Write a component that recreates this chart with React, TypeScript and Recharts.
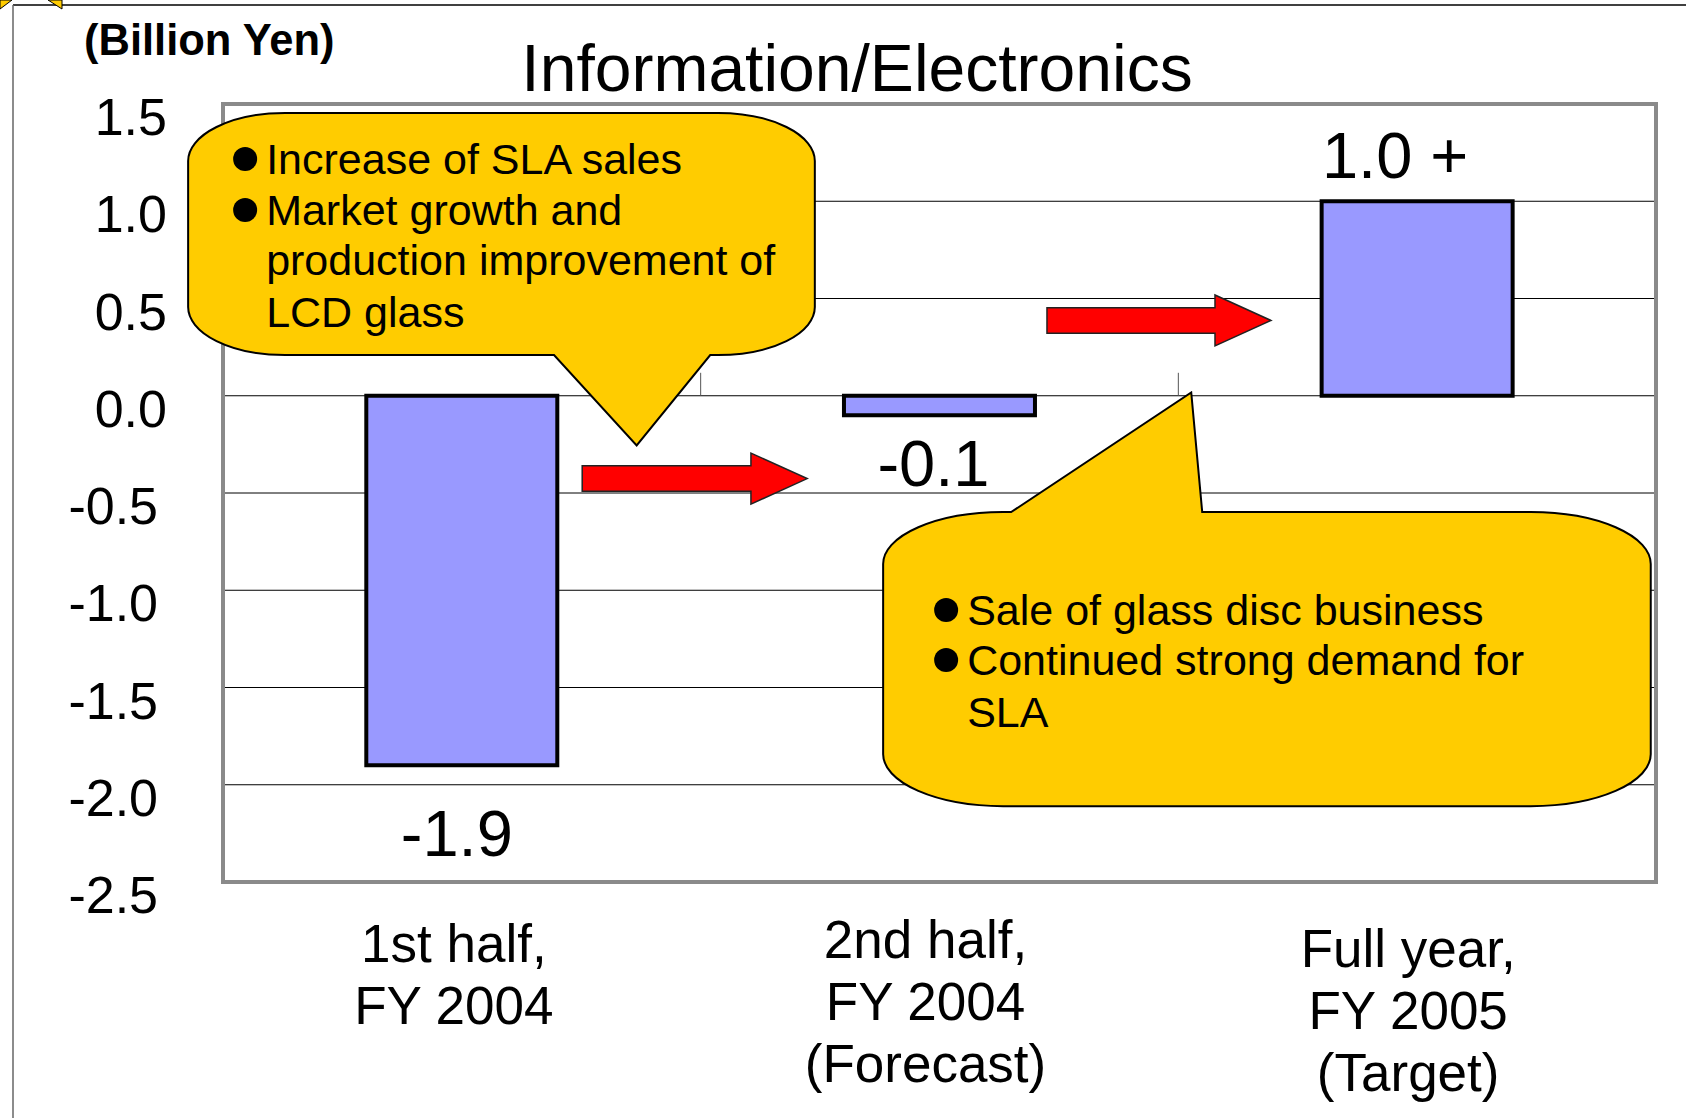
import React from 'react';
import { Bar, BarChart, CartesianGrid, LabelList, ReferenceArea, XAxis, YAxis } from 'recharts';

// data
const categories = ['1st half,\nFY 2004', '2nd half,\nFY 2004\n(Forecast)', 'Full year,\nFY 2005\n(Target)'];
const values = [-1.9, -0.1, 1.0];
const valueLabels = ['-1.9', '-0.1', '1.0 +'];
const yTicks = [-2.5, -2.0, -1.5, -1.0, -0.5, 0, 0.5, 1.0, 1.5];

const callout1Lines = [
  { bullet: true, text: 'Increase of SLA sales' },
  { bullet: true, text: 'Market growth and' },
  { bullet: false, text: 'production improvement of' },
  { bullet: false, text: 'LCD glass' },
];
const callout2Lines = [
  { bullet: true, text: 'Sale of glass disc business' },
  { bullet: true, text: 'Continued strong demand for' },
  { bullet: false, text: 'SLA' },
];

const chartData = categories.map((name, i) => ({ name, value: values[i] }));

const FONT = "'Liberation Sans', Arial, sans-serif";
const W = 1686;
const H = 1118;
const N = categories.length;

// label placement (px)
const labelDx = [-5, -6, -22];
const labelGap = [91, 71, 23];
const catDx = [-8, -14, -9];
const catDy = [0, -4, 5];

// annotation geometry: u runs 0..N across the category axis, v is the value axis
const callout1 = {
  body: { u0: -0.073, u1: 1.239, v0: 0.209, v1: 1.454 },
  tail: { a: 0.693, b: 1.02, tipU: 0.866, tipV: -0.255 },
  rx: 97,
  ry: 48,
  textX: 78,
  bulletX: 57,
  baselines: [61, 112, 162, 214],
  lines: callout1Lines,
  tailTop: false,
};
const callout2 = {
  body: { u0: 1.382, u1: 2.989, v0: -2.11, v1: -0.598 },
  tail: { a: 1.65, b: 2.05, tipU: 2.027, tipV: 0.017 },
  rx: 120,
  ry: 52,
  textX: 84,
  bulletX: 63,
  baselines: [113, 163, 215],
  lines: callout2Lines,
  tailTop: true,
};
const arrows = [
  { u0: 0.752, u1: 1.223, v0: -0.557, v1: -0.295 },
  { u0: 1.725, u1: 2.194, v0: 0.256, v1: 0.518 },
];
const tickTop = 0.118;

type Callout = typeof callout1;

const bbox = (c: Callout) => ({
  v0: Math.min(c.body.v0, c.tail.tipV),
  v1: Math.max(c.body.v1, c.tail.tipV),
});

const calloutShape = (c: Callout) => (props: any) => {
  const { x, y, width, height } = props;
  const bb = bbox(c);
  const ux = (u: number) => x + (u / N) * width;
  const vy = (v: number) => y + ((bb.v1 - v) / (bb.v1 - bb.v0)) * height;
  const L = ux(c.body.u0);
  const R = ux(c.body.u1);
  const T = vy(c.body.v1);
  const B = vy(c.body.v0);
  const { rx, ry } = c;
  const ta = ux(c.tail.a);
  const tb = ux(c.tail.b);
  const tx = ux(c.tail.tipU);
  const ty = vy(c.tail.tipV);
  const arc = (px: number, py: number) => `A ${rx} ${ry} 0 0 1 ${px} ${py}`;
  let d = '';
  if (c.tailTop) {
    d = `M ${L + rx} ${T} H ${ta} L ${tx} ${ty} L ${tb} ${T} H ${R - rx} ${arc(R, T + ry)} V ${B - ry} ${arc(
      R - rx,
      B,
    )} H ${L + rx} ${arc(L, B - ry)} V ${T + ry} ${arc(L + rx, T)} Z`;
  } else {
    d = `M ${L + rx} ${T} H ${R - rx} ${arc(R, T + ry)} V ${B - ry} ${arc(R - rx, B)} H ${tb} L ${tx} ${ty} L ${ta} ${B} H ${
      L + rx
    } ${arc(L, B - ry)} V ${T + ry} ${arc(L + rx, T)} Z`;
  }
  return (
    <g>
      <path d={d} fill="#FFCC00" stroke="#000" strokeWidth={2} />
      {c.lines.map((ln, i) => (
        <g key={i}>
          {ln.bullet && <circle cx={L + c.bulletX} cy={T + c.baselines[i] - 15} r={12} fill="#000" />}
          <text x={L + c.textX} y={T + c.baselines[i]} fontSize={43} fontFamily={FONT} fill="#000">
            {ln.text}
          </text>
        </g>
      ))}
    </g>
  );
};

const arrowShape = (a: (typeof arrows)[number]) => (props: any) => {
  const { x, y, width, height } = props;
  const x0 = x + (a.u0 / N) * width;
  const x1 = x + (a.u1 / N) * width;
  const w = x1 - x0;
  const cy = y + height / 2;
  const s = height * 0.25;
  const hx = x0 + w * 0.75;
  const pts = [
    [x0, cy - s],
    [hx, cy - s],
    [hx, y],
    [x1, cy],
    [hx, y + height],
    [hx, cy + s],
    [x0, cy + s],
  ]
    .map((p) => p.join(','))
    .join(' ');
  return <polygon points={pts} fill="#FF0000" stroke="#222" strokeWidth={1.5} />;
};

// small tick marks at category boundaries, standing on the zero line
const BoundaryTicks = (props: any) => {
  const { x, y, width, height } = props;
  const xs = Array.from({ length: N - 1 }, (_, k) => x + ((k + 1) / N) * width);
  return (
    <g>
      {xs.map((px, i) => (
        <line key={i} x1={px} x2={px} y1={y} y2={y + height} stroke="#555" strokeWidth={1} />
      ))}
    </g>
  );
};

const YTick = (props: any) => {
  const { x, y, payload } = props;
  const v = Number(payload.value);
  return (
    <text x={v < 0 ? x - 9 : x} y={y + 31} textAnchor="end" fontSize={52} fontFamily={FONT} fill="#000">
      {v.toFixed(1)}
    </text>
  );
};

const CatTick = (props: any) => {
  const { x, y, payload, index } = props;
  const lines = String(payload.value).split('\n');
  return (
    <g>
      {lines.map((ln, i) => (
        <text
          key={i}
          x={x + (catDx[index] || 0)}
          y={y + 80 + (catDy[index] || 0) + i * 62}
          textAnchor="middle"
          fontSize={53}
          fontFamily={FONT}
          fill="#000"
        >
          {ln}
        </text>
      ))}
    </g>
  );
};

const BarLabel = (props: any) => {
  const { x, y, width, height, index } = props;
  const top = Math.min(y, y + height);
  const bottom = Math.max(y, y + height);
  const v = values[index];
  const ty = v < 0 ? bottom + labelGap[index] : top - labelGap[index];
  return (
    <text x={x + width / 2 + labelDx[index]} y={ty} textAnchor="middle" fontSize={65} fontFamily={FONT} fill="#000">
      {valueLabels[index]}
    </text>
  );
};

export default function App() {
  const b1 = bbox(callout1);
  const b2 = bbox(callout2);
  return (
    <div style={{ position: 'absolute', left: 0, top: 0, width: W, height: H, background: '#fff' }}>
      <BarChart
        width={W}
        height={H}
        data={chartData}
        margin={{ top: 104, right: 30, left: 0, bottom: 0 }}
        barCategoryGap="30%"
      >
        <CartesianGrid horizontal vertical={false} stroke="#000" strokeWidth={1} />
        <XAxis
          dataKey="name"
          height={236}
          axisLine={false}
          tickLine={false}
          tickSize={0}
          tickMargin={0}
          tick={<CatTick />}
          interval={0}
        />
        <YAxis
          domain={[-2.5, 1.5]}
          ticks={yTicks}
          width={223}
          axisLine={false}
          tickLine={false}
          tickSize={0}
          tickMargin={56}
          tick={<YTick />}
          interval={0}
        />
        <Bar dataKey="value" fill="#9999FF" stroke="#000" strokeWidth={4} isAnimationActive={false}>
          <LabelList dataKey="value" content={<BarLabel />} />
        </Bar>
        <ReferenceArea y1={-2.5} y2={1.5} fill="none" stroke="#8a8a8a" strokeWidth={4} ifOverflow="visible" />
        <ReferenceArea y1={0} y2={tickTop} ifOverflow="visible" shape={BoundaryTicks} />
        {arrows.map((a, i) => (
          <ReferenceArea key={`arrow-${i}`} y1={a.v0} y2={a.v1} ifOverflow="visible" shape={arrowShape(a)} />
        ))}
        <ReferenceArea y1={b1.v0} y2={b1.v1} ifOverflow="visible" shape={calloutShape(callout1)} />
        <ReferenceArea y1={b2.v0} y2={b2.v1} ifOverflow="visible" shape={calloutShape(callout2)} />
      </BarChart>
      <svg width={W} height={H} style={{ position: 'absolute', left: 0, top: 0, pointerEvents: 'none' }}>
        <line x1={13} y1={5} x2={W} y2={5} stroke="#000" strokeWidth={1.5} />
        <line x1={13} y1={5} x2={13} y2={H} stroke="#666" strokeWidth={1.5} />
        <polygon points="0,0 12,0 0,9" fill="#FFCC00" stroke="#000" strokeWidth={1} />
        <polygon points="48,0 62,0 62,9" fill="#FFCC00" stroke="#000" strokeWidth={1} />
        <text x={84} y={55} fontSize={43.5} fontWeight="bold" fontFamily={FONT} fill="#000">
          (Billion Yen)
        </text>
        <text x={857} y={91} textAnchor="middle" fontSize={66} fontFamily={FONT} fill="#000">
          Information/Electronics
        </text>
      </svg>
    </div>
  );
}
